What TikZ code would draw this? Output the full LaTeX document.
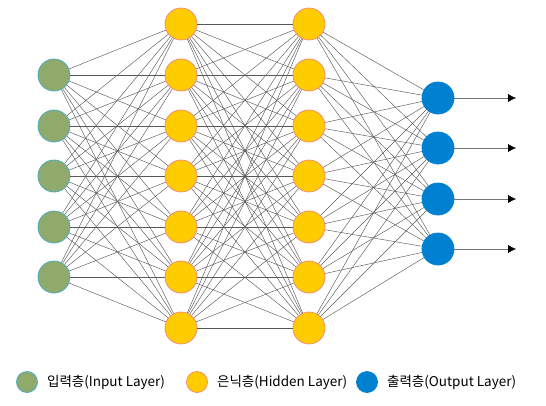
\documentclass[tikz,border=0pt]{standalone}
\usepackage{fontspec}
\setmainfont{Noto Sans CJK KR}
\usetikzlibrary{arrows.meta}
\usetikzlibrary{positioning}
\definecolor{ingreen}{RGB}{143,170,107}
\definecolor{inborder}{RGB}{75,172,198}
\definecolor{hidyellow}{RGB}{255,204,0}
\definecolor{hidborder}{RGB}{244,140,110}
\definecolor{outblue}{RGB}{0,128,208}

\begin{document}
\begin{tikzpicture}[x=1pt,y=-1pt,
  inneuron/.style={circle, fill=ingreen, draw=inborder, line width=.8pt, minimum size=32pt, inner sep=0pt},
  hidneuron/.style={circle, fill=hidyellow, draw=hidborder, line width=.8pt, minimum size=32pt, inner sep=0pt},
  outneuron/.style={circle, fill=outblue, draw=outblue, line width=.8pt, minimum size=32pt, inner sep=0pt},
  synapse/.style={draw=black!65, line width=.45pt},
  keydot/.style={circle, minimum size=21pt, inner sep=0pt, line width=.8pt},
  keytext/.style={anchor=west, inner sep=0pt, font=\fontsize{13.5}{15}\selectfont}]
\useasboundingbox (0,0) rectangle (546,405);

% neurons
\foreach \i/\y in {1/75,2/126,3/176,4/227,5/277}
  \node[inneuron] (in\i) at (54,\y) {};
\foreach \i/\y in {1/24,2/75,3/126,4/176,5/227,6/277,7/328}{
  \node[hidneuron] (ha\i) at (181,\y) {};
  \node[hidneuron] (hb\i) at (309,\y) {};
}
\foreach \i/\y in {1/98,2/148,3/199,4/249}{
  \node[outneuron] (out\i) at (438,\y) {};
  \coordinate (end\i) at (516,\y);
}

% connections
\foreach \i in {1,...,5}
  \foreach \j in {1,...,7}
    \draw[synapse] (in\i) -- (ha\j);
\foreach \i in {1,...,7}
  \foreach \j in {1,...,7}
    \draw[synapse] (ha\i) -- (hb\j);
\foreach \i in {1,...,7}
  \foreach \j in {1,...,4}
    \draw[synapse] (hb\i) -- (out\j);
\foreach \i in {1,...,4}
  \draw[synapse, draw=black!55, -{Latex[length=8pt,width=8pt,black]}] (out\i) -- (end\i);

% legend
\node[keydot, fill=ingreen, draw=inborder] (keyin) at (27,382) {};
\node[keytext, right=9pt of keyin] (txtin) {입력층(Input Layer)};
\node[keydot, fill=hidyellow, draw=hidborder] (keyhid) at (197,382) {};
\node[keytext, right=9pt of keyhid] (txthid) {은닉층(Hidden Layer)};
\node[keydot, fill=outblue, draw=outblue] (keyout) at (367,382) {};
\node[keytext, right=9pt of keyout] (txtout) {출력층(Output Layer)};
\end{tikzpicture}
\end{document}
